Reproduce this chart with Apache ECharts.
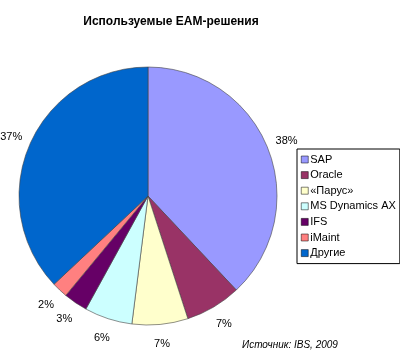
<!DOCTYPE html>
<html>
<head>
<meta charset="utf-8">
<script src="https://cdn.jsdelivr.net/npm/echarts@6/dist/echarts.min.js"></script>
<style>
  html, body { margin: 0; padding: 0; background: #fff; }
  #main { width: 400px; height: 351px; }
</style>
</head>
<body>
<div id="main"></div>
<script>
// данные диаграммы
var names = ['SAP', 'Oracle', '«Парус»', 'MS Dynamics AX', 'IFS', 'iMaint', 'Другие'];
var values = [38, 7, 7, 6, 3, 2, 37];
var colors = ['#9999ff', '#993366', '#ffffcc', '#ccffff', '#660066', '#ff8080', '#0066cc'];

var chart = echarts.init(document.getElementById('main'));

var pieData = [];
var labelData = [];
for (var i = 0; i < names.length; i++) {
  pieData.push({ name: names[i], value: values[i], itemStyle: { color: colors[i] } });
  labelData.push({ name: names[i], value: values[i] });
}

var option = {
  backgroundColor: '#fff',
  animation: false,
  title: [{
    text: 'Используемые EAM-решения',
    left: 166,
    top: 11,
    textAlign: 'center',
    textStyle: { fontFamily: 'Liberation Sans', fontSize: 12, fontWeight: 'bold', color: '#000' }
  }, {
    text: 'Источник: IBS, 2009',
    left: 237,
    top: 335,
    textStyle: { fontFamily: 'Liberation Sans', fontSize: 10, fontStyle: 'italic', fontWeight: 'normal', color: '#000' }
  }],
  legend: {
    orient: 'vertical',
    left: 297,
    top: 149,
    width: 99,
    itemWidth: 7,
    itemHeight: 7,
    itemGap: 4.6,
    padding: [5, 4, 5, 4],
    borderColor: '#000',
    borderWidth: 1,
    icon: 'rect',
    itemStyle: { borderColor: '#000', borderWidth: 0.5 },
    textStyle: { fontFamily: 'Liberation Sans', fontSize: 11, color: '#000', padding: [0, 0, 0, -3] },
    data: names
  },
  series: [{
    type: 'pie',
    center: [148, 196],
    radius: [0, 129],
    startAngle: 90,
    clockwise: true,
    itemStyle: { borderColor: '#444', borderWidth: 0.6 },
    label: { show: false },
    labelLine: { show: false },
    data: pieData
  }, {
    // невидимое кольцо только для подписей процентов
    type: 'pie',
    center: [148, 196],
    radius: [130, 162],
    startAngle: 90,
    clockwise: true,
    silent: true,
    legendHoverLink: false,
    itemStyle: { color: 'rgba(0,0,0,0)', borderWidth: 0 },
    label: {
      show: true,
      position: 'inside',
      formatter: '{c}%',
      fontFamily: 'Liberation Sans',
      fontSize: 11,
      color: '#000',
      overflow: 'none'
    },
    labelLine: { show: false },
    data: labelData
  }]
};

chart.setOption(option);
</script>
</body>
</html>
